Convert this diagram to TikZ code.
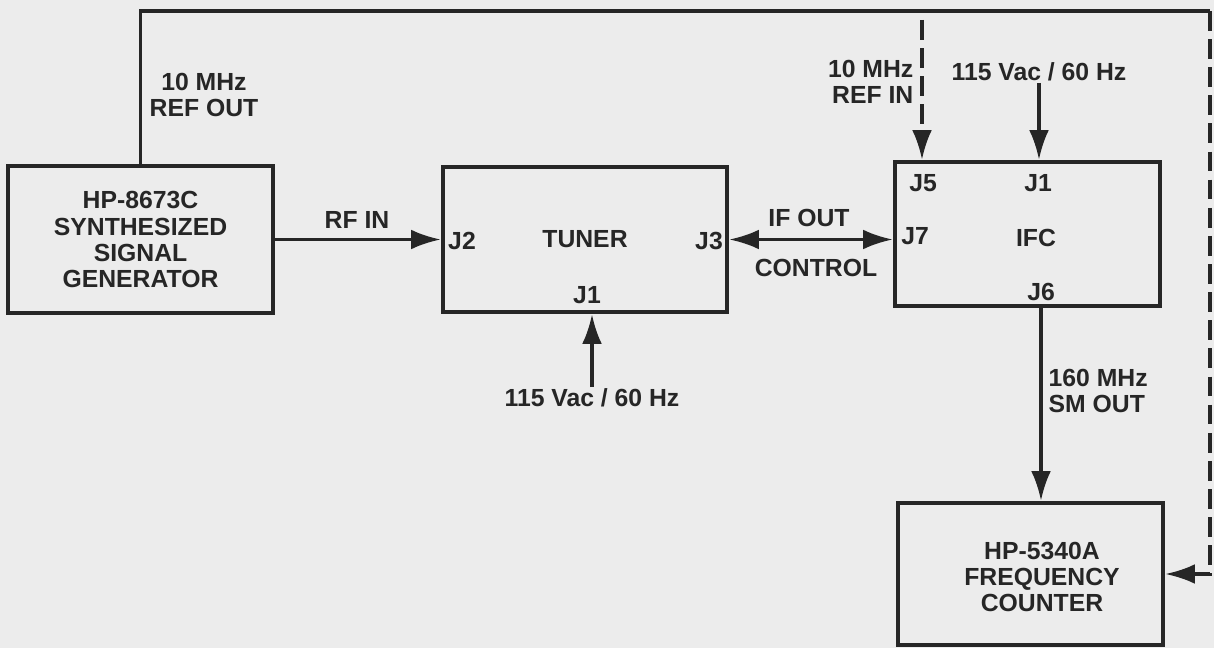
\documentclass[tikz,border=0pt]{standalone}
\usepackage{fontspec}
\setmainfont{Liberation Sans}
\usepackage{tikz}
\usetikzlibrary{arrows.meta,positioning,calc}
\usepackage{xcolor}
\definecolor{ink}{HTML}{262626}
\definecolor{paper}{HTML}{ECECEC}

\tikzset{
  unitbox/.style={draw=ink, line width=3.2pt, inner sep=0pt, font=\lblfont, text=ink, align=center},
  wire/.style={draw=ink, line width=2.4pt},
  tip/.style={-{Latex[length=21pt,width=14pt]}},
  dashwire/.style={wire, dash pattern=on 14pt off 6pt},
  lbl/.style={font=\lblfont, text=ink, inner sep=1pt}
}
\newcommand{\lblfont}{\fontsize{17.6}{18.5}\selectfont\bfseries}

\begin{document}
\begin{tikzpicture}[x=0.025cm, y=-0.025cm]
      \fill[paper] (0,0) rectangle (1214,648);
      \useasboundingbox (0,0) rectangle (1214,648);

      % Units
      \node[unitbox, minimum width=6.625cm, minimum height=3.675cm] (gen) at (140.5,239.5)
        {HP-8673C\\SYNTHESIZED\\SIGNAL\\GENERATOR};
      \node[unitbox, minimum width=7.1cm, minimum height=3.625cm] (tuner) at (585,239.5) {TUNER};
      \node[unitbox, minimum width=6.625cm, minimum height=3.6cm] (ifc) at (1027.5,234) {};
      \node[unitbox, minimum width=6.625cm, minimum height=3.55cm] (ctr) at (1030.5,574) {};
      \node[lbl] (ifcname) at (1036,238) {IFC};
      \node[lbl, align=center] (ctrname) at (1042,577) {HP-5340A\\FREQUENCY\\COUNTER};

      % Connectors on the units
      \node[lbl] (tJ2) at (462,241) {J2};
      \node[lbl] (tJ3) at (709,241) {J3};
      \node[lbl] (tJ1) at (587,295) {J1};
      \node[lbl] (iJ5) at (923,183) {J5};
      \node[lbl] (iJ1) at (1038,183) {J1};
      \node[lbl] (iJ7) at (915,236) {J7};
      \node[lbl] (iJ6) at (1041,292) {J6};

      % Signal labels
      \node[lbl] (rfin) at (357,220) {RF IN};
      \node[lbl, align=center] (refout) at (204,95) {10 MHz\\REF OUT};
      \node[lbl, align=right, anchor=east] (refinlbl) at (915,82) {10 MHz\\REF IN};
      \node[lbl] (ifout) at (809,218) {IF OUT};
      \node[lbl] (ctrl) at (816,268) {CONTROL};
      \node[lbl, align=left, anchor=west] (smout) at (1047,391) {160 MHz\\SM OUT};
      \node[lbl] (pwrT) at (592,398) {115 Vac / 60 Hz};
      \node[lbl] (pwrI) at (1039,72) {115 Vac / 60 Hz};

      \coordinate (topL) at (140.5,11);
      \coordinate (topR) at (1210,11);
      \coordinate (botR) at (topR |- ctr.east);
      \coordinate (refin) at (922,20);

      % Signal paths
      \draw[wire, tip] (gen) -- (tuner);
      \draw[wire, {Latex[length=21pt,width=14pt]}-{Latex[length=21pt,width=14pt]}]
        (tuner.east) -- (tuner.east -| ifc.west);
      \draw[wire, tip] (pwrT.north) -- (pwrT.north |- tuner.south);
      \draw[wire, tip] (pwrI.south) -- (pwrI.south |- ifc.north);
      \draw[wire, tip] (ifc.south -| iJ6) -- (ctr.north -| iJ6);
      \draw[dashwire, tip] (refin) -- (refin |- ifc.north);

      % Reference loop
      \draw[wire] (gen.north) -- (topL) -- (topR);
      \draw[dashwire, tip] (topR) -- (botR) -- (ctr.east);
\end{tikzpicture}
\end{document}
